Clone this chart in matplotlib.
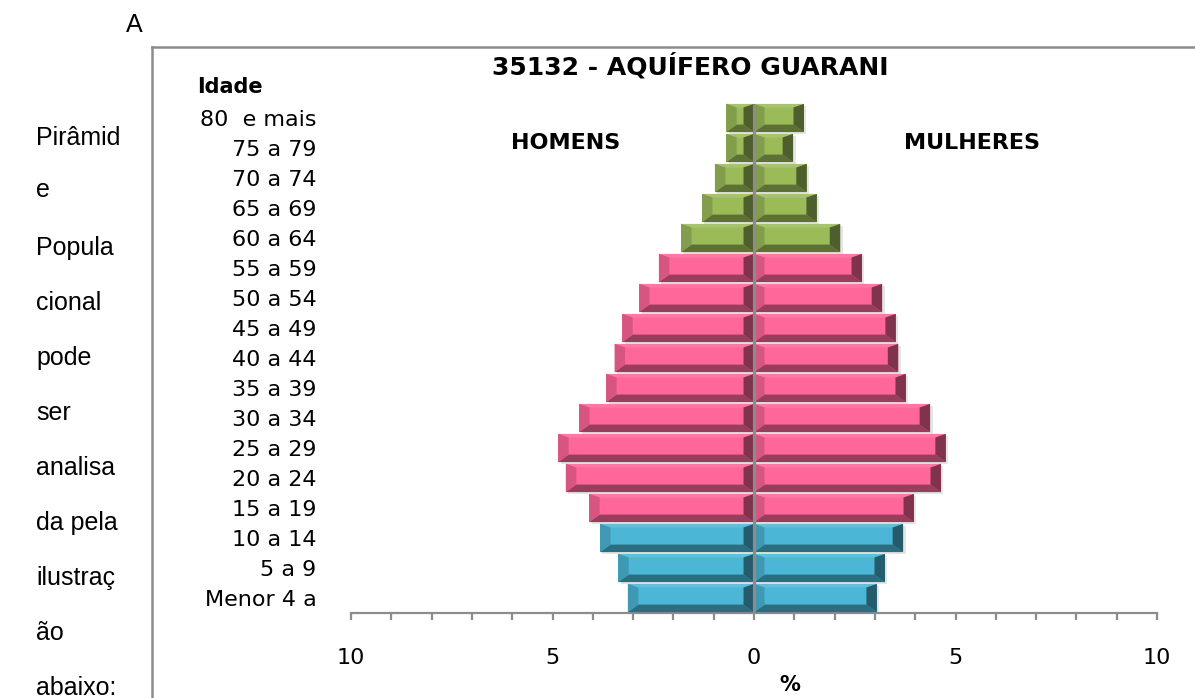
import matplotlib
matplotlib.use("Agg")
import matplotlib.pyplot as plt
from matplotlib.patches import Polygon, Rectangle
from matplotlib.lines import Line2D
from matplotlib.ticker import FixedLocator, FuncFormatter
import matplotlib.colors as mcolors
import numpy as np

# ---------------- data (bottom to top) ----------------
ages = ['Menor 4 a', '5 a 9', '10 a 14', '15 a 19', '20 a 24', '25 a 29',
        '30 a 34', '35 a 39', '40 a 44', '45 a 49', '50 a 54', '55 a 59',
        '60 a 64', '65 a 69', '70 a 74', '75 a 79', '80  e mais']
homens = [3.13, 3.37, 3.82, 4.09, 4.67, 4.86, 4.34, 3.67, 3.46, 3.27, 2.85,
          2.36, 1.81, 1.29, 0.97, 0.69, 0.69]
mulheres = [3.05, 3.25, 3.70, 3.97, 4.64, 4.76, 4.37, 3.77, 3.58, 3.52, 3.18,
            2.68, 2.14, 1.56, 1.31, 0.97, 1.24]
grupos = ['jovem'] * 3 + ['adulto'] * 9 + ['idoso'] * 5
cores_grupo = {'jovem': '#4BB6D6', 'adulto': '#FF6699', 'idoso': '#9BBB59'}

titulo = '35132 - AQUÍFERO GUARANI'
texto_lateral = ['Pirâmid', 'e', 'Popula', 'cional', 'pode', 'ser',
                 'analisa', 'da pela', 'ilustraç', 'ão', 'abaixo:']
x_major = [-10, -5, 0, 5, 10]
x_minor = list(range(-10, 11))

# ---------------- figure ----------------
W, H = 1195, 698
fig = plt.figure(figsize=(W / 100, H / 100), dpi=100)
fig.patch.set_facecolor('white')

def fx(px):
    return px / W

def fy(py):
    return 1 - py / H

ax = fig.add_axes([fx(351), fy(613), fx(1157) - fx(351), fy(100) - fy(613)])
ax.set_xlim(-10, 10)
ax.set_ylim(-0.5, 16.6)

ypos = np.arange(len(ages))
bar_h = 0.94
colors = [cores_grupo[g] for g in grupos]

def shade(c, f):
    r, g, b = mcolors.to_rgb(c)
    return (r * f, g * f, b * f)

def tint(c, f):
    r, g, b = mcolors.to_rgb(c)
    return (r + (1 - r) * f, g + (1 - g) * f, b + (1 - b) * f)

def bevel(patch, base):
    x0 = patch.get_x()
    w = patch.get_width()
    if w < 0:
        x0, w = x0 + w, -w
    x1 = x0 + w
    y0 = patch.get_y()
    y1 = y0 + patch.get_height()
    dx = min(0.26, w / 2.5)
    dyt = 0.12
    dyb = 0.25
    ix0, ix1 = x0 + dx, x1 - dx
    iy0, iy1 = y0 + dyb, y1 - dyt
    # soft drop shadow
    ax.add_patch(Rectangle((x0 + 0.06, y0 - 0.07), w, y1 - y0,
                           facecolor='#9a9a9a', alpha=0.25, lw=0, zorder=1))
    faces = [
        ([(x0, y1), (x1, y1), (ix1, iy1), (ix0, iy1)], tint(base, 0.12)),
        ([(x0, y0), (x1, y0), (ix1, iy0), (ix0, iy0)], shade(base, 0.6)),
        ([(x0, y0), (x0, y1), (ix0, iy1), (ix0, iy0)], shade(base, 0.84)),
        ([(x1, y0), (x1, y1), (ix1, iy1), (ix1, iy0)], shade(base, 0.5)),
    ]
    for pts, col in faces:
        ax.add_patch(Polygon(pts, closed=True, facecolor=col, lw=0, zorder=3))

bars_h = ax.barh(ypos, [-v for v in homens], height=bar_h, color=colors,
                 lw=0, zorder=2)
bars_m = ax.barh(ypos, mulheres, height=bar_h, color=colors, lw=0, zorder=2)
for p, c in zip(bars_h.patches, colors):
    bevel(p, c)
for p, c in zip(bars_m.patches, colors):
    bevel(p, c)

# central axis line
ax.plot([0, 0], [-0.5, ypos[-1] + bar_h / 2], color='#8C8C8C', lw=2.3,
        zorder=5, solid_capstyle='butt')

# axes styling
for s in ['top', 'right', 'left']:
    ax.spines[s].set_visible(False)
ax.spines['bottom'].set_color('#8C8C8C')
ax.spines['bottom'].set_linewidth(1.6)
ax.xaxis.set_major_locator(FixedLocator(x_major))
ax.xaxis.set_minor_locator(FixedLocator(x_minor))
ax.xaxis.set_major_formatter(FuncFormatter(lambda v, p: f'{abs(v):g}'))
ax.tick_params(axis='x', which='both', direction='out', length=5, width=1.6,
               color='#8C8C8C', pad=20, labelsize=16, labelcolor='black')
ax.set_yticks(ypos)
ax.set_yticklabels(ages, fontsize=16)
ax.tick_params(axis='y', length=0, pad=25)
ax.set_facecolor('none')

# texts inside chart
fig.text(fx(690), fy(66), titulo, ha='center', va='center', fontsize=18,
         fontweight='bold')
fig.text(fx(230), fy(87), 'Idade', ha='center', va='center', fontsize=15,
         fontweight='bold')
fig.text(fx(566), fy(143), 'HOMENS', ha='center', va='center', fontsize=16,
         fontweight='bold')
fig.text(fx(972), fy(143), 'MULHERES', ha='center', va='center', fontsize=16,
         fontweight='bold')
fig.text(fx(790), fy(685), '%', ha='center', va='center', fontsize=15,
         fontweight='bold')

# chart frame (partial box)
fig.add_artist(Line2D([fx(152), fx(152)], [fy(47), 0], color='#8C8C8C',
                      lw=1.8, transform=fig.transFigure))
fig.add_artist(Line2D([fx(152), 1], [fy(47), fy(47)], color='#8C8C8C',
                      lw=1.8, transform=fig.transFigure))

# surrounding document text
fig.text(fx(126), fy(25), 'A', ha='left', va='center', fontsize=18,
         family='Liberation Sans')
baselines = [145, 197, 255, 310, 365, 420, 475, 530, 585, 640, 695]
for t, b in zip(texto_lateral, baselines):
    fig.text(fx(36), fy(b), t, ha='left', va='baseline',
             fontsize=18, family='Liberation Sans')

fig.savefig('out.png', dpi=100, facecolor='white')
